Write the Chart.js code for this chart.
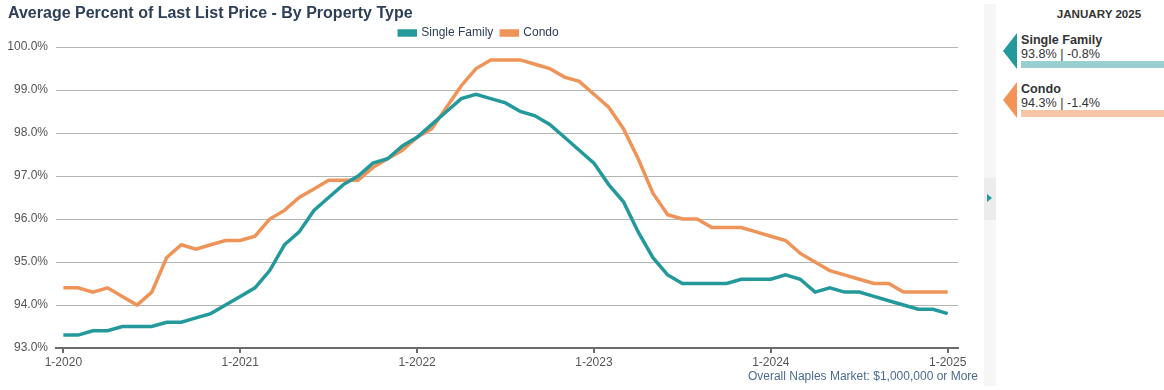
<!DOCTYPE html>
<html>
<head>
<meta charset="utf-8">
<script src="https://cdn.jsdelivr.net/npm/chart.js@4.4.1/dist/chart.umd.min.js"></script>
<style>
    body { margin: 0; background: #fff; font-family: "Liberation Sans", Arial, sans-serif; }
    #wrap { position: relative; width: 1164px; height: 390px; overflow: hidden; }
    #title { position: absolute; left: 8px; top: 4px; font-size: 16px; font-weight: bold; color: #2c3e58; white-space: nowrap; }
    #chartBox { position: absolute; left: 0; top: 0; width: 980px; height: 390px; }
    #source { position: absolute; right: 186px; top: 369px; font-size: 12px; color: #4a6b92; white-space: nowrap; }
    #strip { position: absolute; left: 984px; top: 4px; width: 12px; height: 382px; background: #f6f6f6; }
    #handle { position: absolute; left: 0; top: 174px; width: 12px; height: 42px; background: #ececec; }
    #handle:after { content: ''; position: absolute; left: 3px; top: 16px; border-left: 5px solid #23999b; border-top: 4px solid transparent; border-bottom: 4px solid transparent; }
    #panel { position: absolute; left: 996px; top: 0; width: 168px; height: 390px; }
    #panelHead { position: absolute; left: 0; width: 206px; top: 7px; text-align: center; font-size: 11.6px; font-weight: bold; color: #333; }
    .item { position: absolute; left: 0; width: 168px; height: 40px; }
    .arrow { position: absolute; left: 7px; top: 0; width: 0; height: 0; border-top: 18px solid transparent; border-bottom: 18px solid transparent; border-right: 14px solid; }
    .name { position: absolute; left: 25px; top: 0; font-size: 12.6px; font-weight: bold; color: #333; }
    .val { position: absolute; left: 25px; top: 14px; font-size: 12.6px; color: #333; }
    .bar { position: absolute; left: 25px; top: 28px; width: 143px; height: 7px; }
</style>
</head>
<body>
<div id="wrap">
    <div id="chartBox"><canvas id="priceChart"></canvas></div>
    <div id="title">Average Percent of Last List Price - By Property Type</div>
    <div id="source">Overall Naples Market: $1,000,000 or More</div>
    <div id="strip"><div id="handle"></div></div>
    <div id="panel">
        <div id="panelHead">JANUARY 2025</div>
        <div class="item" style="top: 33px;">
            <div class="arrow" style="border-right-color: #23999b;"></div>
            <div class="name">Single Family</div>
            <div class="val">93.8% | -0.8%</div>
            <div class="bar" style="background: #98cfd0;"></div>
        </div>
        <div class="item" style="top: 82px;">
            <div class="arrow" style="border-right-color: #f39456;"></div>
            <div class="name">Condo</div>
            <div class="val">94.3% | -1.4%</div>
            <div class="bar" style="background: #f7c6a6;"></div>
        </div>
    </div>
</div>
<script>
// Monthly values, 1-2020 through 1-2025
const xTickLabels = ['1-2020', '1-2021', '1-2022', '1-2023', '1-2024', '1-2025'];
const yTickValues = [93, 94, 95, 96, 97, 98, 99, 100];

const singleFamily = [
    93.3, 93.3, 93.4, 93.4, 93.5, 93.5, 93.5, 93.6, 93.6, 93.7, 93.8, 94.0,
    94.2, 94.4, 94.8, 95.4, 95.7, 96.2, 96.5, 96.8, 97.0, 97.3, 97.4, 97.7,
    97.9, 98.2, 98.5, 98.8, 98.9, 98.8, 98.7, 98.5, 98.4, 98.2, 97.9, 97.6,
    97.3, 96.8, 96.4, 95.7, 95.1, 94.7, 94.5, 94.5, 94.5, 94.5, 94.6, 94.6,
    94.6, 94.7, 94.6, 94.3, 94.4, 94.3, 94.3, 94.2, 94.1, 94.0, 93.9, 93.9,
    93.8
];
const condo = [
    94.4, 94.4, 94.3, 94.4, 94.2, 94.0, 94.3, 95.1, 95.4, 95.3, 95.4, 95.5,
    95.5, 95.6, 96.0, 96.2, 96.5, 96.7, 96.9, 96.9, 96.9, 97.2, 97.4, 97.6,
    97.9, 98.1, 98.6, 99.1, 99.5, 99.7, 99.7, 99.7, 99.6, 99.5, 99.3, 99.2,
    98.9, 98.6, 98.1, 97.4, 96.6, 96.1, 96.0, 96.0, 95.8, 95.8, 95.8, 95.7,
    95.6, 95.5, 95.2, 95.0, 94.8, 94.7, 94.6, 94.5, 94.5, 94.3, 94.3, 94.3,
    94.3
];

const toPoints = arr => arr.map((v, i) => ({ x: i, y: v }));

// legend box is a bit taller than the original, trim its bottom
const legendTrim = {
    id: 'legendTrim',
    beforeLayout(chart) {
        const legend = chart.legend;
        if (legend && !legend._trimmed) {
            const fit = legend.fit;
            legend.fit = function () {
                fit.call(this);
                this.height -= 2;
            };
            legend._trimmed = true;
        }
    }
};

Chart.defaults.font.family = '"Liberation Sans", Arial, sans-serif';

const ctx = document.getElementById('priceChart').getContext('2d');
const priceChart = new Chart(ctx, {
    type: 'line',
    data: {
        datasets: [{
            label: 'Single Family',
            data: toPoints(singleFamily),
            borderColor: '#23999b',
            backgroundColor: '#23999b',
            borderWidth: 3.5,
            pointRadius: 0,
            tension: 0
        }, {
            label: 'Condo',
            data: toPoints(condo),
            borderColor: '#ef9458',
            backgroundColor: '#ef9458',
            borderWidth: 3.5,
            pointRadius: 0,
            tension: 0
        }]
    },
    plugins: [legendTrim],
    options: {
        responsive: true,
        maintainAspectRatio: false,
        animation: false,
        layout: {
            padding: { top: 19, right: 22, bottom: 18, left: 0 }
        },
        plugins: {
            legend: {
                position: 'top',
                labels: {
                    boxWidth: 16,
                    boxHeight: 4,
                    padding: 8,
                    color: '#2c3e58',
                    font: { size: 12 }
                }
            },
            tooltip: { enabled: false }
        },
        scales: {
            x: {
                type: 'linear',
                min: -0.5,
                max: 60.7,
                afterBuildTicks: scale => {
                    scale.ticks = xTickLabels.map((_, i) => ({ value: i * 12 }));
                },
                afterFit: scale => { scale.height = 24; },
                ticks: {
                    color: '#555',
                    font: { size: 12 },
                    padding: 2,
                    maxRotation: 0,
                    callback: value => xTickLabels[value / 12]
                },
                grid: {
                    drawOnChartArea: false,
                    drawTicks: true,
                    tickLength: 5,
                    color: '#6b6b6b',
                    lineWidth: 2
                },
                border: { display: true, color: '#6b6b6b', width: 2 }
            },
            y: {
                min: 93,
                max: 100,
                afterBuildTicks: scale => {
                    scale.ticks = yTickValues.map(v => ({ value: v }));
                },
                afterFit: scale => { scale.width = 56; },
                ticks: {
                    color: '#555',
                    font: { size: 12 },
                    padding: 8,
                    callback: value => value.toFixed(1) + '%'
                },
                grid: {
                    drawTicks: false,
                    color: '#b4b4b4',
                    lineWidth: 1
                },
                border: { display: false }
            }
        }
    }
});
</script>
</body>
</html>
